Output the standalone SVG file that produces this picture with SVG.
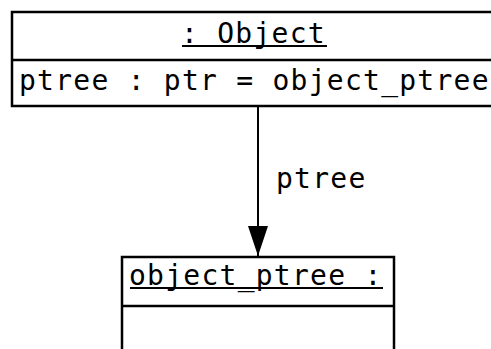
<svg xmlns="http://www.w3.org/2000/svg" width="491" height="349" viewBox="0 0 491 349">
  <style>
    .box { fill: #ffffff; stroke: #000000; stroke-width: 2.5; }
    .sep { stroke: #000000; stroke-width: 2.5; }
    .txt { font-family: "DejaVu Sans Mono", monospace; font-size: 28px; letter-spacing: 1.25px; fill: #000000; }
    .ul { stroke: #000000; stroke-width: 2; }
    .edge { stroke: #000000; stroke-width: 2; fill: none; }
  </style>
  <defs>
    <marker id="arrow" markerWidth="30" markerHeight="20" refX="30" refY="10" orient="auto" markerUnits="userSpaceOnUse" viewBox="0 0 30 20">
      <path d="M0,0 L30,10 L0,20 Z" fill="#000000"/>
    </marker>
  </defs>

  <!-- object instance ": Object" -->
  <g id="object">
    <rect class="box" x="12" y="12" width="486" height="94"/>
    <line class="sep" x1="12" y1="60" x2="498" y2="60"/>
    <text class="txt" x="181" y="43">: Object</text>
    <line class="ul" x1="182" y1="46" x2="327" y2="46"/>
    <text class="txt" x="19" y="90">ptree : ptr = object_ptree</text>
  </g>

  <!-- object instance "object_ptree :" -->
  <g id="object_ptree">
    <rect class="box" x="122" y="257" width="272" height="110"/>
    <line class="sep" x1="122" y1="306" x2="394" y2="306"/>
    <text class="txt" x="129" y="285">object_ptree :</text>
    <line class="ul" x1="130" y1="288" x2="383" y2="288"/>
  </g>

  <!-- link -->
  <g id="connectors">
    <line class="edge" x1="258" y1="106" x2="258" y2="256" marker-end="url(#arrow)"/>
    <text class="txt" x="276" y="188">ptree</text>
  </g>
</svg>
